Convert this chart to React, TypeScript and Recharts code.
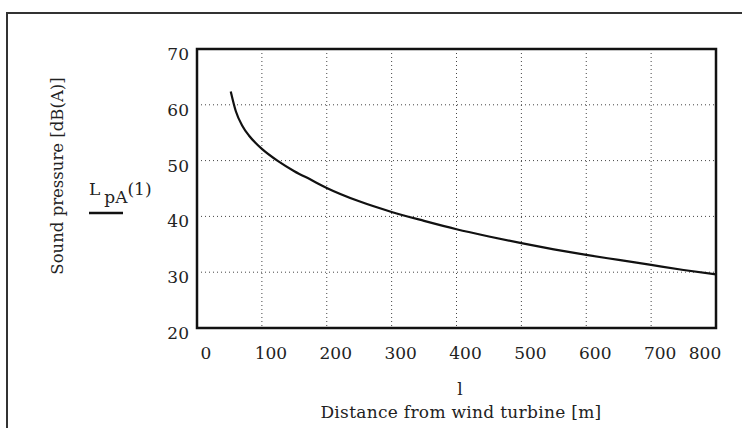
import { LineChart, Line, XAxis, YAxis, CartesianGrid, ReferenceArea } from 'recharts';

const distances = [52, 60, 70, 80, 90, 100, 125, 150, 175, 200, 250, 300, 350, 400, 450, 500, 550, 600, 650, 700, 750, 800];
const soundPressure = [62.4, 58.8, 56.2, 54.5, 53.2, 52.1, 49.9, 48.1, 46.6, 45.1, 42.7, 40.8, 39.2, 37.7, 36.4, 35.2, 34.1, 33.1, 32.2, 31.3, 30.4, 29.6];

const xTicks = [0, 100, 200, 300, 400, 500, 600, 700, 800];
const yTicks = [20, 30, 40, 50, 60, 70];

const data = distances.map((d, i) => ({ l: d, lpa: soundPressure[i] }));

const FONT = '"DejaVu Serif", serif';
const INK = '#222';

const XTick = (props: any) => {
  const { x, y, payload } = props;
  // last label is pulled in so it stays inside the frame
  const shift = payload.value === 800 ? -11 : 9;
  return (
    <text x={x + shift} y={y} dy={23} textAnchor="middle" fontFamily={FONT} fontSize={17} fill={INK}>
      {payload.value}
    </text>
  );
};

const YTick = (props: any) => {
  const { x, y, payload } = props;
  return (
    <text x={x} y={y} dy={11} textAnchor="end" fontFamily={FONT} fontSize={17} fill={INK}>
      {payload.value}
    </text>
  );
};

export default function App() {
  return (
    <div style={{ position: 'absolute', left: 0, top: 0, width: 742, height: 428, background: '#fff', overflow: 'hidden' }}>
      {/* outer frame of the scanned figure */}
      <div
        style={{
          position: 'absolute',
          left: 6,
          top: 12,
          width: 742,
          height: 428,
          borderTop: '2px solid #333',
          borderLeft: '2px solid #333',
        }}
      />
      <LineChart
        width={742}
        height={428}
        data={data}
        margin={{ top: 49, right: 26, bottom: 70, left: 157 }}
        style={{ position: 'absolute', left: 0, top: 0 }}
      >
        <CartesianGrid stroke="#444" strokeDasharray="1 3" />
        <XAxis
          dataKey="l"
          type="number"
          domain={[0, 800]}
          ticks={xTicks}
          height={30}
          axisLine={false}
          tickLine={false}
          tick={<XTick />}
          interval={0}
        />
        <YAxis
          type="number"
          domain={[20, 70]}
          ticks={yTicks}
          width={40}
          axisLine={false}
          tickLine={false}
          tick={<YTick />}
          interval={0}
        />
        <ReferenceArea x1={0} x2={800} y1={20} y2={70} fill="none" fillOpacity={0} stroke="#111" strokeWidth={2.5} ifOverflow="visible" />
        <Line type="monotone" dataKey="lpa" stroke="#111" strokeWidth={2.2} dot={false} isAnimationActive={false} />
      </LineChart>
      <svg width={742} height={428} style={{ position: 'absolute', left: 0, top: 0, pointerEvents: 'none' }}>
        <text
          x={63}
          y={176}
          transform="rotate(-90 63 176)"
          textAnchor="middle"
          fontFamily={FONT}
          fontSize={16.5}
          fill={INK}
        >
          Sound pressure [dB(A)]
        </text>
        <text x={89} y={195} fontFamily={FONT} fontSize={17} fill={INK}>
          L
          <tspan dx={4} dy={8}>pA</tspan>
          <tspan dy={-8}>(1)</tspan>
        </text>
        <line x1={89} y1={213} x2={123} y2={213} stroke="#111" strokeWidth={2.5} />
        <text x={460} y={395} textAnchor="middle" fontFamily={FONT} fontSize={17} fill={INK}>
          l
        </text>
        <text x={461} y={418} textAnchor="middle" fontFamily={FONT} fontSize={17} letterSpacing={0.3} fill={INK}>
          Distance from wind turbine [m]
        </text>
      </svg>
    </div>
  );
}
